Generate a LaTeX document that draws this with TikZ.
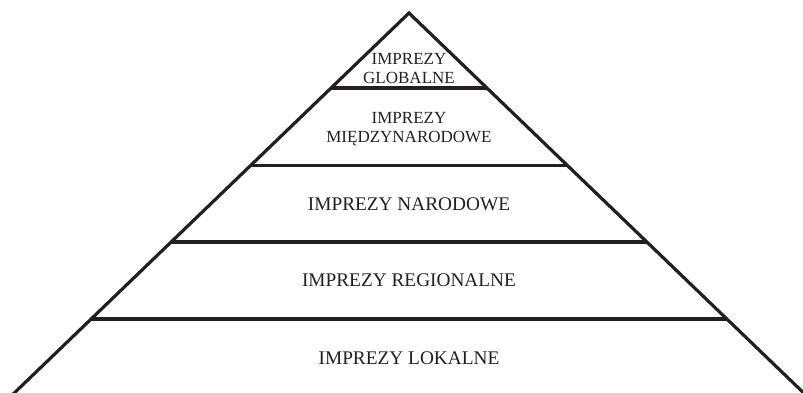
\documentclass[tikz,border=0pt]{standalone}
\usepackage{fontspec}
\setmainfont{Liberation Serif}
\usepackage{tikz}
\definecolor{ink}{RGB}{35,31,32}

\begin{document}
\begin{tikzpicture}
		[x=1pt, y=-1pt, ink, edge/.style = {line width=3.2pt},
		level/.style = {text=ink, align=center, font=\fontsize{19.3}{21}\selectfont},
		tip/.style = {text=ink, align=center, font=\fontsize{17}{19}\selectfont}]
	\useasboundingbox (0,0) rectangle (803,393);
	\clip (0,0) rectangle (803,393);
	\coordinate (top) at (409,13);
	\coordinate (l0) at (7,400);
	\coordinate (r0) at (811,400);
	\coordinate (l1) at (331,88);
	\coordinate (r1) at (487,88);
	\coordinate (l2) at (251,165.5);
	\coordinate (r2) at (567,165.5);
	\coordinate (l3) at (171,242);
	\coordinate (r3) at (647,242);
	\coordinate (l4) at (91,319);
	\coordinate (r4) at (727,319);
	\draw[edge] (l0) -- (top) -- (r0);
	\draw[edge] (l1) -- (r1);
	\draw[edge] (l2) -- (r2);
	\draw[edge] (l3) -- (r3);
	\draw[edge] (l4) -- (r4);
	\node[tip] (glob) at (409,69) {IMPREZY\\GLOBALNE};
	\node[tip] (miedzy) at (409,129.5) {IMPREZY\\MIĘDZYNARODOWE};
	\node[level] (narod) at (409,204) {IMPREZY NARODOWE};
	\node[level] (region) at (409,280) {IMPREZY REGIONALNE};
	\node[level] (lokal) at (409,358.5) {IMPREZY LOKALNE};
\end{tikzpicture}
\end{document}
